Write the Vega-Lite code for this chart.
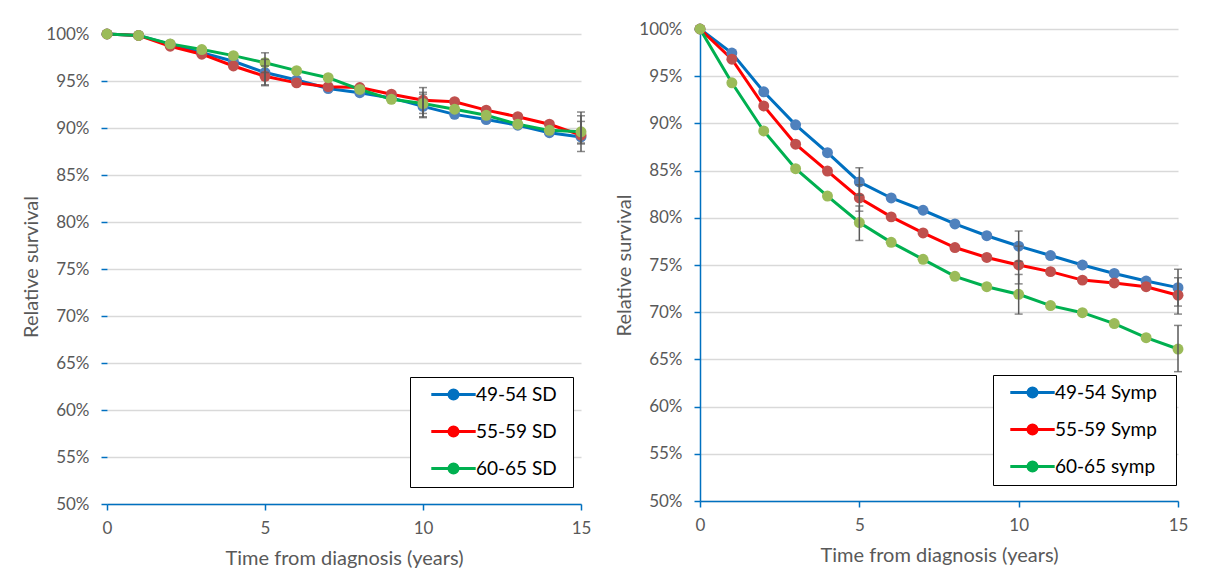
{
  "$schema": "https://vega.github.io/schema/vega-lite/v6.json",
  "padding": {"left": 21, "top": 20, "right": 5, "bottom": 5},
  "background": "white",
  "spacing": 23,
  "datasets": {
    "left_surv": [
      {"group": "49-54 SD", "year": 0, "value": 100}, {"group": "49-54 SD", "year": 1, "value": 99.85}, {"group": "49-54 SD", "year": 2, "value": 98.9}, {"group": "49-54 SD", "year": 3, "value": 98.0}, {"group": "49-54 SD", "year": 4, "value": 97.1}, {"group": "49-54 SD", "year": 5, "value": 95.9}, {"group": "49-54 SD", "year": 6, "value": 95.1}, {"group": "49-54 SD", "year": 7, "value": 94.2}, {"group": "49-54 SD", "year": 8, "value": 93.75}, {"group": "49-54 SD", "year": 9, "value": 93.2}, {"group": "49-54 SD", "year": 10, "value": 92.3}, {"group": "49-54 SD", "year": 11, "value": 91.45}, {"group": "49-54 SD", "year": 12, "value": 90.9}, {"group": "49-54 SD", "year": 13, "value": 90.3}, {"group": "49-54 SD", "year": 14, "value": 89.5}, {"group": "49-54 SD", "year": 15, "value": 89.05},
      {"group": "55-59 SD", "year": 0, "value": 100}, {"group": "55-59 SD", "year": 1, "value": 99.85}, {"group": "55-59 SD", "year": 2, "value": 98.7}, {"group": "55-59 SD", "year": 3, "value": 97.85}, {"group": "55-59 SD", "year": 4, "value": 96.6}, {"group": "55-59 SD", "year": 5, "value": 95.5}, {"group": "55-59 SD", "year": 6, "value": 94.8}, {"group": "55-59 SD", "year": 7, "value": 94.4}, {"group": "55-59 SD", "year": 8, "value": 94.3}, {"group": "55-59 SD", "year": 9, "value": 93.6}, {"group": "55-59 SD", "year": 10, "value": 92.95}, {"group": "55-59 SD", "year": 11, "value": 92.8}, {"group": "55-59 SD", "year": 12, "value": 91.9}, {"group": "55-59 SD", "year": 13, "value": 91.2}, {"group": "55-59 SD", "year": 14, "value": 90.4}, {"group": "55-59 SD", "year": 15, "value": 89.25},
      {"group": "60-65 SD", "year": 0, "value": 100}, {"group": "60-65 SD", "year": 1, "value": 99.85}, {"group": "60-65 SD", "year": 2, "value": 98.95}, {"group": "60-65 SD", "year": 3, "value": 98.35}, {"group": "60-65 SD", "year": 4, "value": 97.7}, {"group": "60-65 SD", "year": 5, "value": 96.95}, {"group": "60-65 SD", "year": 6, "value": 96.1}, {"group": "60-65 SD", "year": 7, "value": 95.35}, {"group": "60-65 SD", "year": 8, "value": 94.1}, {"group": "60-65 SD", "year": 9, "value": 93.05}, {"group": "60-65 SD", "year": 10, "value": 92.6}, {"group": "60-65 SD", "year": 11, "value": 92.0}, {"group": "60-65 SD", "year": 12, "value": 91.35}, {"group": "60-65 SD", "year": 13, "value": 90.4}, {"group": "60-65 SD", "year": 14, "value": 89.75}, {"group": "60-65 SD", "year": 15, "value": 89.6}
    ],
    "left_err": [
      {"group": "49-54 SD", "year": 5, "lo": 94.6, "hi": 97.3}, {"group": "55-59 SD", "year": 5, "lo": 94.5, "hi": 96.6}, {"group": "60-65 SD", "year": 5, "lo": 95.9, "hi": 98.0},
      {"group": "49-54 SD", "year": 10, "lo": 91.1, "hi": 93.6}, {"group": "55-59 SD", "year": 10, "lo": 91.55, "hi": 94.3}, {"group": "60-65 SD", "year": 10, "lo": 91.2, "hi": 93.8},
      {"group": "49-54 SD", "year": 15, "lo": 87.5, "hi": 90.7}, {"group": "55-59 SD", "year": 15, "lo": 88.3, "hi": 91.7}, {"group": "60-65 SD", "year": 15, "lo": 88.4, "hi": 91.3}
    ],
    "right_surv": [
      {"group": "49-54 Symp", "year": 0, "value": 100}, {"group": "49-54 Symp", "year": 1, "value": 97.45}, {"group": "49-54 Symp", "year": 2, "value": 93.35}, {"group": "49-54 Symp", "year": 3, "value": 89.85}, {"group": "49-54 Symp", "year": 4, "value": 86.9}, {"group": "49-54 Symp", "year": 5, "value": 83.8}, {"group": "49-54 Symp", "year": 6, "value": 82.1}, {"group": "49-54 Symp", "year": 7, "value": 80.8}, {"group": "49-54 Symp", "year": 8, "value": 79.35}, {"group": "49-54 Symp", "year": 9, "value": 78.1}, {"group": "49-54 Symp", "year": 10, "value": 77.0}, {"group": "49-54 Symp", "year": 11, "value": 76.0}, {"group": "49-54 Symp", "year": 12, "value": 75.0}, {"group": "49-54 Symp", "year": 13, "value": 74.1}, {"group": "49-54 Symp", "year": 14, "value": 73.3}, {"group": "49-54 Symp", "year": 15, "value": 72.6},
      {"group": "55-59 Symp", "year": 0, "value": 100}, {"group": "55-59 Symp", "year": 1, "value": 96.8}, {"group": "55-59 Symp", "year": 2, "value": 91.85}, {"group": "55-59 Symp", "year": 3, "value": 87.8}, {"group": "55-59 Symp", "year": 4, "value": 84.95}, {"group": "55-59 Symp", "year": 5, "value": 82.1}, {"group": "55-59 Symp", "year": 6, "value": 80.1}, {"group": "55-59 Symp", "year": 7, "value": 78.4}, {"group": "55-59 Symp", "year": 8, "value": 76.85}, {"group": "55-59 Symp", "year": 9, "value": 75.8}, {"group": "55-59 Symp", "year": 10, "value": 75.0}, {"group": "55-59 Symp", "year": 11, "value": 74.3}, {"group": "55-59 Symp", "year": 12, "value": 73.4}, {"group": "55-59 Symp", "year": 13, "value": 73.1}, {"group": "55-59 Symp", "year": 14, "value": 72.7}, {"group": "55-59 Symp", "year": 15, "value": 71.8},
      {"group": "60-65 symp", "year": 0, "value": 100}, {"group": "60-65 symp", "year": 1, "value": 94.3}, {"group": "60-65 symp", "year": 2, "value": 89.2}, {"group": "60-65 symp", "year": 3, "value": 85.2}, {"group": "60-65 symp", "year": 4, "value": 82.3}, {"group": "60-65 symp", "year": 5, "value": 79.5}, {"group": "60-65 symp", "year": 6, "value": 77.4}, {"group": "60-65 symp", "year": 7, "value": 75.6}, {"group": "60-65 symp", "year": 8, "value": 73.8}, {"group": "60-65 symp", "year": 9, "value": 72.7}, {"group": "60-65 symp", "year": 10, "value": 71.9}, {"group": "60-65 symp", "year": 11, "value": 70.7}, {"group": "60-65 symp", "year": 12, "value": 69.95}, {"group": "60-65 symp", "year": 13, "value": 68.8}, {"group": "60-65 symp", "year": 14, "value": 67.3}, {"group": "60-65 symp", "year": 15, "value": 66.1}
    ],
    "right_err": [
      {"group": "49-54 Symp", "year": 5, "lo": 82.4, "hi": 85.3}, {"group": "55-59 Symp", "year": 5, "lo": 80.7, "hi": 83.5}, {"group": "60-65 symp", "year": 5, "lo": 77.6, "hi": 81.25},
      {"group": "49-54 Symp", "year": 10, "lo": 75.4, "hi": 78.6}, {"group": "55-59 Symp", "year": 10, "lo": 73.0, "hi": 77.0}, {"group": "60-65 symp", "year": 10, "lo": 69.8, "hi": 74.0},
      {"group": "49-54 Symp", "year": 15, "lo": 70.65, "hi": 74.55}, {"group": "55-59 Symp", "year": 15, "lo": 69.8, "hi": 73.65}, {"group": "60-65 symp", "year": 15, "lo": 63.7, "hi": 68.6}
    ]
  },
  "hconcat": [
    {
      "width": 474,
      "height": 475,
      "layer": [
        {
          "mark": {"type": "rule", "color": "#0070C0", "strokeWidth": 1.5},
          "encoding": {
            "x": {"datum": 0, "type": "quantitative"},
            "y": {"datum": 50, "type": "quantitative"},
            "y2": {"datum": 100}
          }
        },
        {
          "data": {"name": "left_surv"},
          "mark": {"type": "line", "strokeWidth": 3},
          "encoding": {
            "x": {"field": "year", "type": "quantitative", "title": "Time from diagnosis (years)", "scale": {"domain": [0, 15], "nice": false}, "axis": {"values": [0, 5, 10, 15], "grid": false, "labelFlush": false, "labelPadding": 10, "titlePadding": 12}},
            "y": {"field": "value", "type": "quantitative", "title": "Relative survival", "scale": {"domain": [50, 100.532], "nice": false, "zero": false}, "axis": {"values": [50, 55, 60, 65, 70, 75, 80, 85, 90, 95, 100], "labelExpr": "datum.value + '%'", "grid": true, "domain": false, "labelFlush": false, "labelPadding": 12, "titlePadding": 4}},
            "color": {"field": "group", "type": "nominal", "scale": {"domain": ["49-54 SD", "55-59 SD", "60-65 SD"], "range": ["#0070C0", "#FF0000", "#00B050"]},
              "legend": {"title": "\u00a0", "titleOrient": "right", "titleFontSize": 2, "titlePadding": 8, "orient": "none", "legendX": 303, "legendY": 348, "strokeColor": "#000000", "fillColor": "#ffffff", "padding": 8, "symbolType": "M-3.7,0H3.7M0.25,0A0.25,0.25 0 1,1 -0.25,0A0.25,0.25 0 1,1 0.25,0M0.5,0A0.5,0.5 0 1,1 -0.5,0A0.5,0.5 0 1,1 0.5,0M0.75,0A0.75,0.75 0 1,1 -0.75,0A0.75,0.75 0 1,1 0.75,0", "symbolSize": 144, "symbolStrokeWidth": 3, "symbolOffset": 26, "labelOffset": 13, "labelFont": "Lato", "labelFontSize": 19, "labelColor": "#000000", "rowPadding": 16}}
          }
        },
        {
          "data": {"name": "left_surv"},
          "mark": {"type": "point", "filled": true, "size": 120, "opacity": 1},
          "encoding": {
            "x": {"field": "year", "type": "quantitative"},
            "y": {"field": "value", "type": "quantitative", "title": "Relative survival"},
            "fill": {"field": "group", "type": "nominal", "scale": {"domain": ["49-54 SD", "55-59 SD", "60-65 SD"], "range": ["#4F81BD", "#C0504D", "#9BBB59"]}, "legend": null}
          }
        },
        {
          "data": {"name": "left_err"},
          "mark": {"type": "errorbar", "ticks": {"size": 8, "thickness": 1.5}, "color": "#595959", "thickness": 1.5},
          "encoding": {
            "x": {"field": "year", "type": "quantitative"},
            "y": {"field": "lo", "type": "quantitative", "title": "Relative survival"},
            "y2": {"field": "hi"}
          }
        }
      ]
    },
    {
      "width": 478,
      "height": 472,
      "layer": [
        {
          "data": {"name": "right_surv"},
          "mark": {"type": "line", "strokeWidth": 3},
          "encoding": {
            "x": {"field": "year", "type": "quantitative", "title": "Time from diagnosis (years)", "scale": {"domain": [0, 15], "nice": false}, "axis": {"values": [0, 5, 10, 15], "grid": false, "labelFlush": false, "labelPadding": 10, "titlePadding": 12}},
            "y": {"field": "value", "type": "quantitative", "title": "Relative survival", "scale": {"domain": [50, 100], "nice": false, "zero": false}, "axis": {"values": [50, 55, 60, 65, 70, 75, 80, 85, 90, 95, 100], "labelExpr": "datum.value + '%'", "grid": true, "labelFlush": false, "labelPadding": 12, "titlePadding": 4}},
            "color": {"field": "group", "type": "nominal", "scale": {"domain": ["49-54 Symp", "55-59 Symp", "60-65 symp"], "range": ["#0070C0", "#FF0000", "#00B050"]},
              "legend": {"title": "\u00a0", "titleOrient": "right", "titleFontSize": 2, "titlePadding": 11, "orient": "none", "legendX": 293, "legendY": 346, "strokeColor": "#000000", "fillColor": "#ffffff", "padding": 8, "symbolType": "M-3.7,0H3.7M0.25,0A0.25,0.25 0 1,1 -0.25,0A0.25,0.25 0 1,1 0.25,0M0.5,0A0.5,0.5 0 1,1 -0.5,0A0.5,0.5 0 1,1 0.5,0M0.75,0A0.75,0.75 0 1,1 -0.75,0A0.75,0.75 0 1,1 0.75,0", "symbolSize": 144, "symbolStrokeWidth": 3, "symbolOffset": 22, "labelOffset": 13, "labelFont": "Lato", "labelFontSize": 19, "labelColor": "#000000", "rowPadding": 16}}
          }
        },
        {
          "data": {"name": "right_surv"},
          "mark": {"type": "point", "filled": true, "size": 120, "opacity": 1},
          "encoding": {
            "x": {"field": "year", "type": "quantitative"},
            "y": {"field": "value", "type": "quantitative", "title": "Relative survival"},
            "fill": {"field": "group", "type": "nominal", "scale": {"domain": ["49-54 Symp", "55-59 Symp", "60-65 symp"], "range": ["#4F81BD", "#C0504D", "#9BBB59"]}, "legend": null}
          }
        },
        {
          "data": {"name": "right_err"},
          "mark": {"type": "errorbar", "ticks": {"size": 8, "thickness": 1.5}, "color": "#595959", "thickness": 1.5},
          "encoding": {
            "x": {"field": "year", "type": "quantitative"},
            "y": {"field": "lo", "type": "quantitative", "title": "Relative survival"},
            "y2": {"field": "hi"}
          }
        }
      ]
    }
  ],
  "resolve": {"scale": {"color": "independent", "fill": "independent"}, "legend": {"color": "independent"}},
  "config": {
    "view": {"stroke": null},
    "axis": {"domainColor": "#0070C0", "domainWidth": 1.5, "tickColor": "#0070C0", "tickWidth": 1.5, "tickSize": 6, "labelFont": "Lato", "labelFontSize": 17, "labelColor": "#595959", "titleFont": "Lato", "titleFontSize": 20, "titleColor": "#595959", "titleFontWeight": "normal", "gridColor": "#D9D9D9", "gridWidth": 1.5}
  }
}
